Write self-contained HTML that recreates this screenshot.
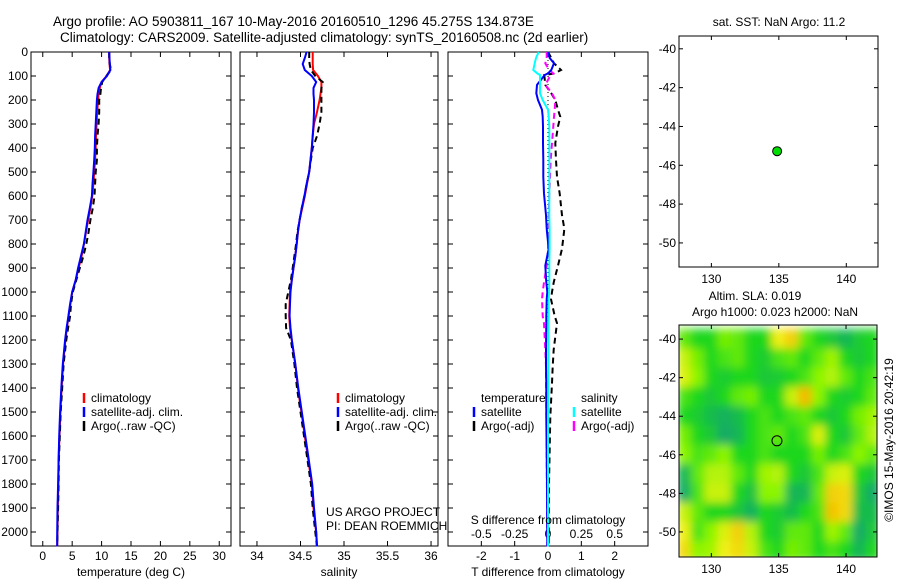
<!DOCTYPE html>
<html><head><meta charset="utf-8"><style>
body{margin:0;background:#fff}
svg{display:block;font-family:"Liberation Sans",sans-serif;font-size:12px}
</style></head><body>
<svg id="fig" width="900" height="580" viewBox="0 0 900 580" xmlns="http://www.w3.org/2000/svg">
<rect width="900" height="580" fill="#fff"/>
<text x="53" y="26" font-size="13.5">Argo profile: AO 5903811_167 10-May-2016 20160510_1296 45.275S 134.873E</text>
<text x="60" y="42" font-size="13.5">Climatology: CARS2009. Satellite-adjusted climatology: synTS_20160508.nc (2d earlier)</text>
<defs>
<filter id="blur" x="-10%" y="-10%" width="120%" height="120%"><feGaussianBlur stdDeviation="4.5" edgeMode="duplicate"/></filter>
<clipPath id="mapclip"><rect x="679" y="325" width="198" height="232"/></clipPath>
</defs>
<g id="layer"></g>
</svg>
<script>
// ---- data ----
const depthTicks=[0,100,200,300,400,500,600,700,800,900,1000,1100,1200,1300,1400,1500,1600,1700,1800,1900,2000];
const tempTicks=[0,5,10,15,20,25,30];
const salTicks=[34,34.5,35,35.5,36];
const tdTicks=[-2,-1,0,1,2];
const sdTicks=[-0.5,-0.25,0,0.25,0.5];
const depths=[0,25,50,75,100,125,150,175,200,250,300,350,400,450,500,550,600,650,700,750,800,850,900,950,1000,1050,1100,1150,1200,1300,1400,1500,1600,1700,1800,1900,2000,2060];
const tempClim=[11.3,11.3,11.35,11.45,10.85,10.0,9.7,9.5,9.4,9.25,9.15,9.05,9.0,8.9,8.75,8.6,8.4,8.1,7.7,7.35,7.0,6.6,6.1,5.6,5.0,4.7,4.4,4.1,3.85,3.45,3.2,3.0,2.85,2.7,2.65,2.55,2.5,2.45];
const tempSat=[11.3,11.35,11.4,11.5,10.9,10.0,9.5,9.3,9.2,9.1,9.0,8.9,8.85,8.75,8.6,8.45,8.35,8.0,7.6,7.3,7.0,6.5,6.0,5.6,5.0,4.65,4.35,4.05,3.8,3.4,3.15,2.95,2.8,2.7,2.6,2.5,2.45,2.45];
const tempArgo=[11.3,11.3,11.4,11.6,10.8,10.1,9.9,9.8,9.6,9.6,9.5,9.3,9.2,9.2,9.0,8.9,8.8,8.5,8.1,7.8,7.4,6.9,6.3,5.7,5.1,4.8,4.65,4.3,4.0,3.55,3.3,3.05,2.9,2.75,2.7,2.6,2.5,2.45];
const salClim=[34.64,34.64,34.64,34.645,34.70,34.74,34.74,34.73,34.72,34.69,34.655,34.64,34.63,34.615,34.60,34.575,34.55,34.52,34.49,34.47,34.456,34.44,34.42,34.40,34.38,34.375,34.37,34.38,34.40,34.44,34.47,34.51,34.55,34.59,34.63,34.65,34.68,34.69];
const salSat=[34.57,34.55,34.525,34.55,34.63,34.68,34.65,34.65,34.655,34.655,34.65,34.64,34.63,34.615,34.60,34.57,34.545,34.515,34.49,34.47,34.456,34.44,34.42,34.40,34.385,34.38,34.375,34.385,34.40,34.44,34.475,34.515,34.555,34.595,34.635,34.655,34.68,34.69];
const salArgo=[34.60,34.60,34.605,34.62,34.67,34.755,34.74,34.74,34.74,34.74,34.72,34.69,34.64,34.62,34.60,34.57,34.545,34.515,34.49,34.465,34.45,34.43,34.41,34.39,34.36,34.33,34.33,34.335,34.39,34.43,34.46,34.50,34.54,34.58,34.62,34.64,34.67,34.69];
const dDepths=[0,25,47,75,89,96,137,172,200,241,270,310,380,450,520,590,680,735,750,820,890,960,1000,1030,1100,1130,1240,1310,1380,1520,1800,2060];
const dTsat=[0,0.05,0.18,0.1,0,-0.1,-0.33,-0.35,-0.3,-0.18,-0.16,-0.15,-0.15,-0.14,-0.14,-0.12,-0.06,-0.04,-0.03,0.02,-0.08,-0.05,-0.02,-0.04,-0.05,-0.05,-0.06,-0.06,-0.05,-0.05,-0.03,-0.02];
const dTargo=[0,0.1,0.18,0.39,0.2,-0.11,-0.08,0.1,0.22,0.3,0.37,0.3,0.22,0.24,0.27,0.35,0.42,0.49,0.48,0.42,0.3,0.17,0.12,0.09,0.2,0.27,0.17,0.14,0.12,0.07,0.03,0.02];
const dSsat=[-0.07,-0.09,-0.10,-0.11,-0.08,-0.06,-0.06,-0.06,-0.04,0,0.005,0.01,0.01,0.01,0.01,0.01,0.01,0.012,0.012,0.012,0.01,0.01,0.008,0.005,0.005,0.004,0.003,0.002,0.002,0,0,0];
const dSargo=[-0.01,-0.01,-0.02,0.01,0.04,0.02,-0.02,0.03,0.055,0.05,0.045,0.04,0.03,0.02,0.015,0.01,0.005,0.005,0.005,0,-0.01,-0.03,-0.04,-0.045,-0.04,-0.03,-0.02,-0.015,-0.015,-0.012,-0.008,-0.005];
const mapLons=[128,129,130,131,132,133,134,135,136,137,138,139,140,141,142];
const mapLats=[-40,-41,-42,-43,-44,-45,-46,-47,-48,-49,-50,-51];
const sla=[
[0.3,0,0,0.4,0.3,0,0,1.0,1.3,0.3,0,-0.3,-0.6,-0.2,0],
[0.8,0.4,0,0.2,0.3,0,-0.2,0.2,0.3,0,0.3,0.6,0,-0.3,0],
[0.9,0.5,0,-0.2,0,0,-0.3,-0.2,0,0.2,0.5,0.7,0.3,0,0.2],
[0.2,0,-0.3,0,0.3,0.4,0,0,0.8,1.5,0.5,0,-0.2,0,0.3],
[0,-0.2,-0.5,-0.7,-0.5,0,0.2,0,0.2,0.3,0,-0.3,0,0.4,0.6],
[0.4,0,-0.3,-0.8,-0.6,0,0.2,0.3,0,0.2,0.9,0,-0.3,0.3,0.7],
[0.5,0.2,0.3,0.5,0,0,0.2,0,0,0,0.4,0,0.2,0.5,0.3],
[-0.6,0.3,0.7,0.7,0.3,0,0.6,0.7,0,-0.3,0.2,0.8,0.9,0,-0.3],
[-0.8,0.2,0.8,0.8,0,-0.4,0.5,0.5,-0.6,-0.6,0.3,1.3,1.2,-0.3,-0.8],
[0.8,0.3,0,0,-0.3,-0.7,0,-0.2,-0.5,0,0.2,1.4,1.2,-0.5,-0.5],
[1.0,0.2,0.5,0.9,1.3,0.7,0,-0.2,0.3,0.3,0,0.6,0.3,-0.8,-0.3],
[1.2,0.5,0.6,1.0,1.2,0.8,0.2,0,0.4,0.3,0,0.2,0,-0.6,0]];
const floatLon=134.873, floatLat=-45.275;
const lonTicks=[130,135,140];
const latTicks=[-40,-42,-44,-46,-48,-50];

// ---- helpers ----
const NS='http://www.w3.org/2000/svg';
const L=document.getElementById('layer');
function mk(tag,at,parent){const e=document.createElementNS(NS,tag);for(const k in at)e.setAttribute(k,at[k]);(parent||L).appendChild(e);return e;}
function txt(s,x,y,anchor,size){const e=mk('text',{x:x,y:y,'text-anchor':anchor||'middle','font-size':size||12});e.textContent=s;return e;}
const pTop=52,pBot=546;
const yD=d=>pTop+d*0.24;

function panel(name,x0,x1,xmin,xmax,ticks,fmt,labelY){
  const sx=v=>x0+(v-xmin)/(xmax-xmin)*(x1-x0);
  const r=mk('rect',{x:x0,y:pTop,width:x1-x0,height:pBot-pTop,fill:'none',stroke:'#000','stroke-width':1});
  
  
  ticks.forEach(t=>{
    mk('line',{x1:sx(t),x2:sx(t),y1:pBot,y2:pBot-5,stroke:'#000'});
    mk('line',{x1:sx(t),x2:sx(t),y1:pTop,y2:pTop+5,stroke:'#000'});
    if(labelY){const e=txt(fmt(t),sx(t),labelY);
      
      }
  });
  depthTicks.forEach(d=>{
    mk('line',{x1:x0,x2:x0+5,y1:yD(d),y2:yD(d),stroke:'#000'});
    mk('line',{x1:x1,x2:x1-5,y1:yD(d),y2:yD(d),stroke:'#000'});
  });
  return sx;
}
function line(name,sx,vals,ds,color,dash,scale){
  const pts=vals.map((v,i)=>sx(v*(scale||1)).toFixed(1)+','+yD(ds[i]).toFixed(1)).join(' ');
  const p=mk('polyline',{points:pts,fill:'none',stroke:color,'stroke-width':2,'stroke-dasharray':dash||'none'});
  
  
}
function legend(items,x,y){
  items.forEach((it,i)=>{
    if(it[1])mk('line',{x1:x,x2:x,y1:y+i*14-9,y2:y+i*14+1,stroke:it[1],'stroke-width':2.5});
    const e=txt(it[0],x+7,y+i*14,'start');
    
    
  });
}

// panel 1 temperature
const sT=panel('temperature-panel',31,231,-2,32,tempTicks,t=>t,560);
depthTicks.forEach(d=>{const e=txt(d,28,yD(d)+4,'end');
  
  });
line('temp-climatology',sT,tempClim,depths,'#f00');
line('temp-argo',sT,tempArgo,depths,'#000','6,4');
line('temp-satellite',sT,tempSat,depths,'#00f');
let e=txt('temperature (deg C)',131,576);
legend([['climatology','#f00'],['satellite-adj. clim.','#00f'],['Argo(..raw -QC)','#000']],84,402);

// panel 2 salinity
const sS=panel('salinity-panel',240,438,33.805,36.08,salTicks,t=>t,560);
line('sal-climatology',sS,salClim,depths,'#f00');
line('sal-argo',sS,salArgo,depths,'#000','6,4');
line('sal-satellite',sS,salSat,depths,'#00f');
e=txt('salinity',339,576);
legend([['climatology','#f00'],['satellite-adj. clim.','#00f'],['Argo(..raw -QC)','#000']],338,402);
e=txt('US ARGO PROJECT',326,516,'start');
e=txt('PI: DEAN ROEMMICH',326,530,'start');

// panel 3 differences
const sD=panel('difference-panel',448,648,-3,3,tdTicks,t=>t,560);
sdTicks.forEach(t=>{const q=txt(t,sD(t*4),538);});
mk('line',{x1:sD(0),x2:sD(0),y1:pTop,y2:pBot,stroke:'#000','stroke-dasharray':'1,3'});
line('tdiff-argo',sD,dTargo,dDepths,'#000','6,4');
line('sdiff-argo',sD,dSargo,dDepths,'#f0f','6,4',4);
line('tdiff-satellite',sD,dTsat,dDepths,'#00f');
line('sdiff-satellite',sD,dSsat,dDepths,'#0ff',null,4);
e=txt('S difference from climatology',548,524);
e=txt('T difference from climatology',548,576);
legend([['temperature',null],['satellite','#00f'],['Argo(-adj)','#000']],474,402);
legend([['salinity',null],['satellite','#0ff'],['Argo(-adj)','#f0f']],574,402);

// maps
function mapAxes(name,x0,x1,y0,y1,latTop,latBot,lonL,lonR){
  const mx=v=>x0+(v-lonL)/(lonR-lonL)*(x1-x0);
  const my=v=>y0+(latTop-v)/(latTop-latBot)*(y1-y0);
  return [mx,my,()=>{
    const r=mk('rect',{x:x0,y:y0,width:x1-x0,height:y1-y0,fill:'none',stroke:'#000'});
    
    
    lonTicks.forEach(t=>{mk('line',{x1:mx(t),x2:mx(t),y1:y1,y2:y1-4,stroke:'#000'});mk('line',{x1:mx(t),x2:mx(t),y1:y0,y2:y0+4,stroke:'#000'});
      const q=txt(t,mx(t),y1+16);});
    latTicks.forEach(t=>{mk('line',{x1:x0,x2:x0+4,y1:my(t),y2:my(t),stroke:'#000'});mk('line',{x1:x1,x2:x1-4,y1:my(t),y2:my(t),stroke:'#000'});
      const q=txt(t,x0-3,my(t)+4,'end');});
  }];
}
const [ax,ay,af]=mapAxes('sst-map',679,878,36,267,-39.34,-51.24,127.6,142.35);
af();
let c=mk('circle',{cx:ax(floatLon),cy:ay(floatLat),r:4.5,fill:'#0d0',stroke:'#000'});

e=txt('sat. SST: NaN Argo: 11.2',779,26);

const [bx,by,bf]=mapAxes('sla-map',679,877,325,557,-39.27,-51.3,127.6,142.3);
const stops=[[-1,[20,160,120]],[0,[30,215,30]],[0.5,[140,245,0]],[1,[240,240,20]],[1.5,[245,185,0]]];
function col(v){v=Math.max(-1,Math.min(1.5,v));for(let i=0;i<stops.length-1;i++){const a=stops[i],b=stops[i+1];if(v<=b[0]){const f=(v-a[0])/(b[0]-a[0]);return 'rgb('+a[1].map((c,k)=>Math.round(c+(b[1][k]-c)*f)).join(',')+')';}}return 'rgb(245,185,0)';}
const gc=mk('g',{'clip-path':'url(#mapclip)'});
const g=mk('g',{filter:'url(#blur)'},gc);

sla.forEach((row,i)=>row.forEach((v,j)=>{
  const cw=bx(mapLons[0]+1)-bx(mapLons[0]), ch=by(mapLats[0]-1)-by(mapLats[0]);
  const cell=mk('rect',{x:bx(mapLons[j])-cw/2-0.5,y:by(mapLats[i])-ch/2-0.5,width:cw+1,height:ch+1,fill:col(v)},g);
  
  
}));
bf();
c=mk('circle',{cx:bx(floatLon),cy:by(floatLat),r:5,fill:'none',stroke:'#000'});

e=txt('Altim. SLA: 0.019',755,300);
e=txt('Argo h1000: 0.023 h2000: NaN',775,316);
e=txt('©IMOS 15-May-2016 20:42:19',0,0);
e.setAttribute('transform','translate(893,440) rotate(-90)');

</script>
</body></html>
